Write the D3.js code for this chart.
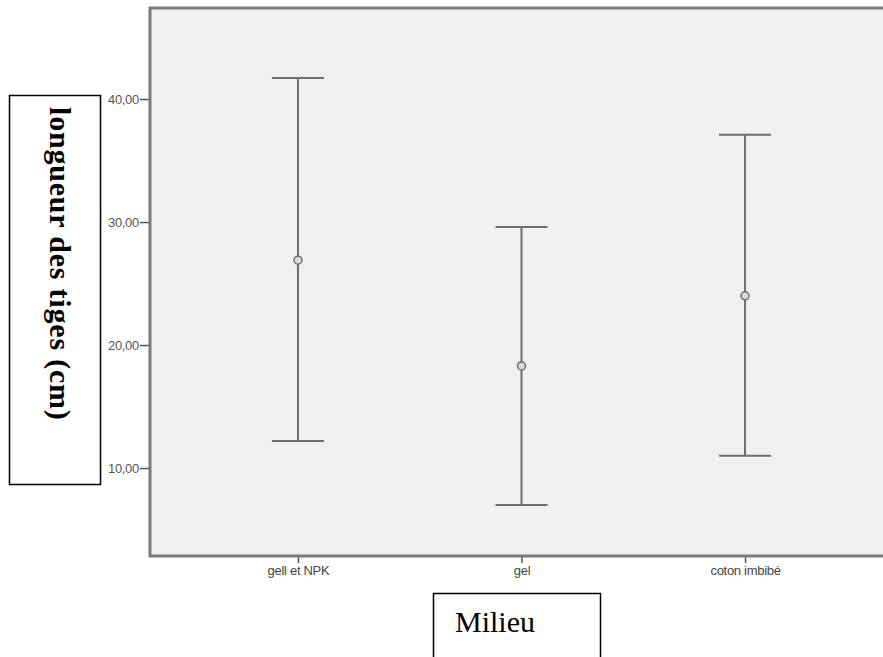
<!DOCTYPE html>
<html>
<head>
<meta charset="utf-8">
<script src="https://cdn.jsdelivr.net/npm/d3@7"></script>
<style>
  body { margin: 0; background: #fff; }
  svg { display: block; }
  .ticks text { font-family: "Liberation Sans", Arial, sans-serif; font-size: 13px; fill: #555; letter-spacing: -0.3px; }
  .ticks line { stroke: #555; stroke-width: 1.5; }
  .ticks path { display: none; }
</style>
</head>
<body>
<div id="chart"></div>
<script>
// data
const categories = ["gell et NPK", "gel", "coton imbibé"];
const means = [26.9, 18.3, 24.0];
const lower = [12.2, 7.0, 11.0];
const upper = [41.7, 29.6, 37.1];
const yTicks = [10, 20, 30, 40];

let width = 883;
let height = 657;
let plot = { left: 150, top: 8, right: 893, bottom: 556 };

let svg = d3.select("#chart").append("svg")
  .attr("width", width)
  .attr("height", height);

let x = d3.scalePoint()
  .domain(categories)
  .range([plot.left, plot.right])
  .padding(0.662);

let y = d3.scaleLinear()
  .domain([2.85, 47.4])
  .range([plot.bottom, plot.top]);

let fr = d3.formatLocale({ decimal: ",", thousands: " ", grouping: [3], currency: ["", ""] });
let fmt = fr.format(".2f");

// plot background
svg.append("rect")
  .attr("x", plot.left)
  .attr("y", plot.top)
  .attr("width", plot.right - plot.left)
  .attr("height", plot.bottom - plot.top)
  .attr("fill", "#f0f0f0");

// axes
let yAxis = d3.axisLeft(y)
  .tickValues(yTicks)
  .tickFormat(fmt)
  .tickSize(10)
  .tickPadding(1);

svg.append("g")
  .attr("class", "ticks")
  .attr("transform", `translate(${plot.left}, 0)`)
  .call(yAxis);

let xAxis = d3.axisBottom(x)
  .tickSize(7)
  .tickPadding(3);

svg.append("g")
  .attr("class", "ticks")
  .attr("transform", `translate(0, ${plot.bottom})`)
  .call(xAxis)
  .selectAll("text")
  .style("fill", "#444");

// frame: left, top, bottom
svg.append("path")
  .attr("d", `M${plot.right},${plot.top}H${plot.left}V${plot.bottom}H${plot.right}`)
  .attr("fill", "none")
  .attr("stroke", "#7a7a7a")
  .attr("stroke-width", 3);

// error bars
let rows = categories.map(function (c, i) {
  return { name: c, mean: means[i], lo: lower[i], hi: upper[i] };
});

let bar = svg.selectAll(".err")
  .data(rows)
  .enter()
  .append("g")
  .attr("class", "err")
  .attr("stroke", "#6e6e6e")
  .attr("stroke-width", 2)
  .attr("fill", "none");

let capW = 26;

bar.append("line")
  .attr("x1", function (d) { return x(d.name); })
  .attr("x2", function (d) { return x(d.name); })
  .attr("y1", function (d) { return y(d.hi); })
  .attr("y2", function (d) { return y(d.lo); });

bar.append("line")
  .attr("x1", function (d) { return x(d.name) - capW; })
  .attr("x2", function (d) { return x(d.name) + capW; })
  .attr("y1", function (d) { return y(d.hi); })
  .attr("y2", function (d) { return y(d.hi); });

bar.append("line")
  .attr("x1", function (d) { return x(d.name) - capW; })
  .attr("x2", function (d) { return x(d.name) + capW; })
  .attr("y1", function (d) { return y(d.lo); })
  .attr("y2", function (d) { return y(d.lo); });

bar.append("circle")
  .attr("cx", function (d) { return x(d.name); })
  .attr("cy", function (d) { return y(d.mean); })
  .attr("r", 4)
  .attr("fill", "#d8d8d8")
  .attr("stroke", "#6e6e6e")
  .attr("stroke-width", 1.5);

// y title box
svg.append("rect")
  .attr("x", 9.5)
  .attr("y", 95.5)
  .attr("width", 91)
  .attr("height", 389)
  .attr("fill", "#fff")
  .attr("stroke", "#000")
  .attr("stroke-width", 1.5);

svg.append("text")
  .attr("transform", "translate(50, 107) rotate(90)")
  .attr("font-family", "'Liberation Serif', 'Times New Roman', serif")
  .attr("font-weight", "bold")
  .attr("font-size", 30)
  .attr("letter-spacing", 0.8)
  .attr("fill", "#000")
  .text("longueur des tiges (cm)");

// x title box
svg.append("rect")
  .attr("x", 433.5)
  .attr("y", 593.5)
  .attr("width", 167)
  .attr("height", 80)
  .attr("fill", "#fff")
  .attr("stroke", "#000")
  .attr("stroke-width", 1.5);

svg.append("text")
  .attr("x", 455)
  .attr("y", 632)
  .attr("font-family", "'Liberation Serif', 'Times New Roman', serif")
  .attr("font-size", 30)
  .attr("fill", "#000")
  .text("Milieu");
</script>
</body>
</html>
